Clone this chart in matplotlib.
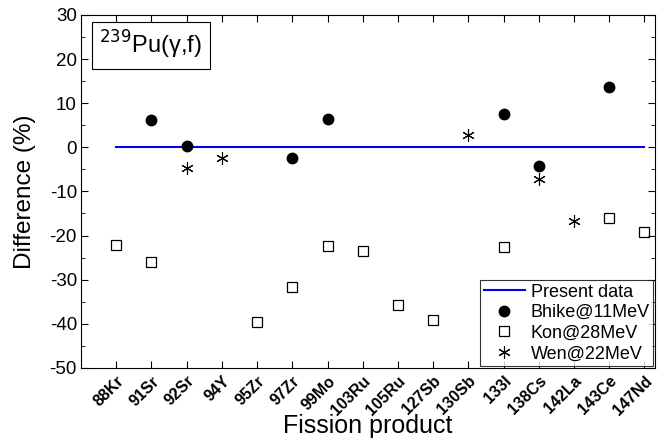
import matplotlib
matplotlib.use("Agg")
import matplotlib.pyplot as plt
import numpy as np
from matplotlib.ticker import MultipleLocator

plt.rcParams['font.family'] = ['Liberation Sans', 'DejaVu Sans']
plt.rcParams['axes.unicode_minus'] = False

products = ["88Kr", "91Sr", "92Sr", "94Y", "95Zr", "97Zr", "99Mo", "103Ru",
            "105Ru", "127Sb", "130Sb", "133I", "138Cs", "142La", "143Ce", "147Nd"]

bhike_names = ["91Sr", "92Sr", "97Zr", "99Mo", "133I", "138Cs", "143Ce"]
bhike_vals = [6.1, 0.4, -2.4, 6.4, 7.6, -4.2, 13.6]

kon_names = ["88Kr", "91Sr", "95Zr", "97Zr", "99Mo", "103Ru", "105Ru", "127Sb",
             "133I", "143Ce", "147Nd"]
kon_vals = [-22.2, -26.1, -39.6, -31.7, -22.4, -23.4, -35.8, -39.2, -22.7, -16.1, -19.1]

wen_names = ["92Sr", "94Y", "130Sb", "138Cs", "142La"]
wen_vals = [-4.6, -2.4, 2.8, -7.1, -16.6]

present_vals = [0.0] * len(products)

pos = {p: i + 1 for i, p in enumerate(products)}

fig = plt.figure(figsize=(6.59, 4.40), dpi=100)
ax = fig.add_axes([0.123, 0.164, 0.871, 0.802])

ax.plot([pos[p] for p in products], present_vals, color='#0000ee', lw=1.5, label='Present data')
ax.plot([pos[p] for p in bhike_names], bhike_vals, 'o', color='black', ms=7.5, ls='none',
        label='Bhike@11MeV')
ax.plot([pos[p] for p in kon_names], kon_vals, 's', mfc='none', mec='black', mew=0.9,
        ms=6.5, ls='none', label='Kon@28MeV')
ax.plot([pos[p] for p in wen_names], wen_vals, marker=(6, 2, 0), color='black', mew=0.8,
        ms=9, ls='none', label='Wen@22MeV')

ax.set_xlim(0, 16.3)
ax.set_ylim(-50, 30)
ax.set_xticks([pos[p] for p in products])
ax.set_xticklabels(products, rotation=45, ha='right', rotation_mode='anchor',
                   fontsize=11.5, fontweight='bold')
ax.yaxis.set_major_locator(MultipleLocator(10))
ax.yaxis.set_minor_locator(MultipleLocator(5))
ax.tick_params(axis='both', which='both', direction='in', top=True, right=True)
ax.tick_params(axis='y', which='major', length=5, labelsize=13.5, pad=3)
ax.tick_params(axis='y', which='minor', length=3)
ax.tick_params(axis='x', which='major', length=5, pad=4)
ax.tick_params(axis='x', which='major', top=True, labeltop=False)
ax.set_ylabel('Difference (%)', fontsize=17.5, labelpad=10)
ax.set_xlabel('Fission product', fontsize=18, labelpad=-3)

ax.text(0.032, 0.96, r'$^{239}$Pu(γ,f)', transform=ax.transAxes, fontsize=17,
        va='top', ha='left',
        bbox=dict(boxstyle='square,pad=0.32', fc='white', ec='black', lw=0.8))

leg = ax.legend(loc='lower right', fontsize=13, frameon=True, fancybox=False,
                edgecolor='black', borderpad=0.2, labelspacing=0.2,
                handlelength=2.3, handletextpad=0.3, borderaxespad=0.1)
leg.get_frame().set_linewidth(0.8)

fig.savefig('out.png', dpi=100)
